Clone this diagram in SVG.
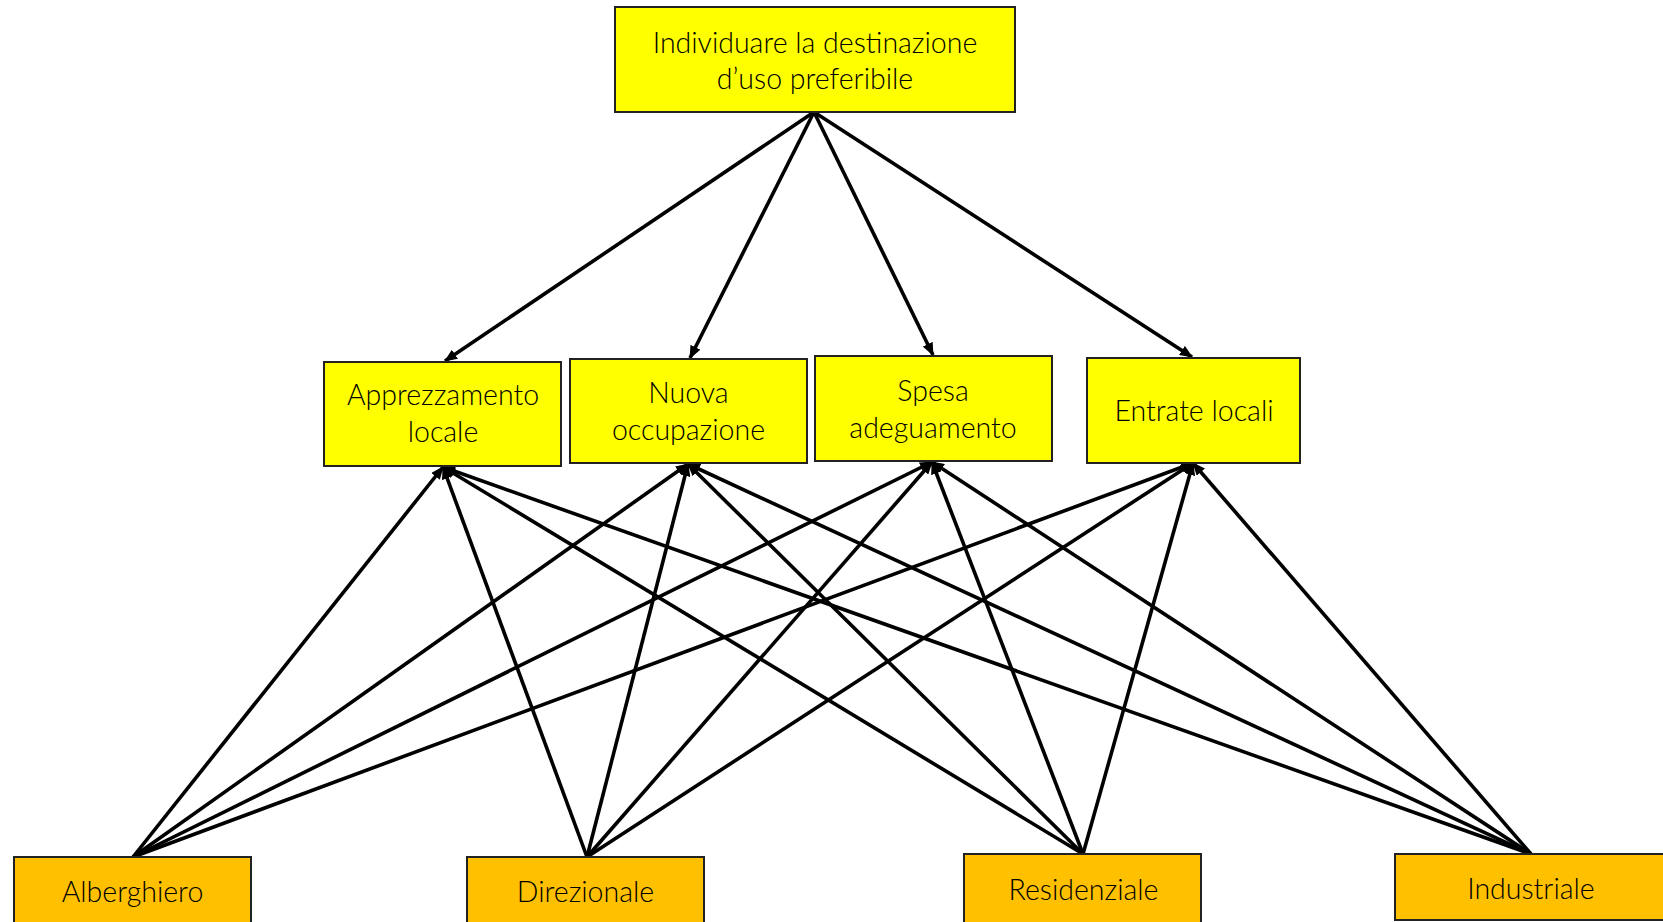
<svg xmlns="http://www.w3.org/2000/svg" width="1663" height="922" viewBox="0 0 1663 922">
  <style>
    .goal { fill: #FFFF00; stroke: #222; stroke-width: 2; }
    .crit { fill: #FFFF00; stroke: #222; stroke-width: 2; }
    .alt { fill: #FFC000; stroke: #222; stroke-width: 2; }
    .lbl { font-family: Lato, "Liberation Sans", sans-serif; font-weight: 300; font-size: 28.5px; fill: #000; text-anchor: middle; }
    .edge { stroke: #000; stroke-width: 3.6; fill: none; marker-end: url(#arrow); }
  </style>
  <defs>
    <marker id="arrow" viewBox="0 0 13 11" refX="12" refY="5.5" markerWidth="13" markerHeight="11" markerUnits="userSpaceOnUse" orient="auto">
      <path d="M0,0 L13,5.5 L0,11 z" fill="#000"/>
    </marker>
  </defs>

  <!-- connectors -->
  <g id="connectors">
    <!-- goal to criteria -->
    <line class="edge" x1="814" y1="112" x2="445" y2="361"/>
    <line class="edge" x1="814" y1="112" x2="690" y2="358"/>
    <line class="edge" x1="814" y1="112" x2="933" y2="355"/>
    <line class="edge" x1="814" y1="112" x2="1192" y2="357"/>
    <!-- Alberghiero to criteria -->
    <line class="edge" x1="133" y1="857" x2="443" y2="467"/>
    <line class="edge" x1="133" y1="857" x2="688" y2="464"/>
    <line class="edge" x1="133" y1="857" x2="932" y2="462"/>
    <line class="edge" x1="133" y1="857" x2="1193" y2="463"/>
    <!-- Direzionale to criteria -->
    <line class="edge" x1="587" y1="857" x2="443" y2="467"/>
    <line class="edge" x1="587" y1="857" x2="688" y2="464"/>
    <line class="edge" x1="587" y1="857" x2="932" y2="462"/>
    <line class="edge" x1="587" y1="857" x2="1193" y2="463"/>
    <!-- Residenziale to criteria -->
    <line class="edge" x1="1083" y1="854" x2="443" y2="467"/>
    <line class="edge" x1="1083" y1="854" x2="688" y2="464"/>
    <line class="edge" x1="1083" y1="854" x2="932" y2="462"/>
    <line class="edge" x1="1083" y1="854" x2="1193" y2="463"/>
    <!-- Industriale to criteria -->
    <line class="edge" x1="1531" y1="854" x2="443" y2="467"/>
    <line class="edge" x1="1531" y1="854" x2="688" y2="464"/>
    <line class="edge" x1="1531" y1="854" x2="932" y2="462"/>
    <line class="edge" x1="1531" y1="854" x2="1193" y2="463"/>
  </g>

  <!-- goal -->
  <g id="goal">
    <rect class="goal" x="615" y="7" width="400" height="105"/>
    <text class="lbl" x="815" y="53">Individuare la destinazione</text>
    <text class="lbl" x="815" y="89">d’uso preferibile</text>
  </g>

  <!-- criteria -->
  <g id="apprezzamento">
    <rect class="crit" x="324" y="362" width="237" height="104"/>
    <text class="lbl" x="443" y="405">Apprezzamento</text>
    <text class="lbl" x="443" y="442">locale</text>
  </g>
  <g id="occupazione">
    <rect class="crit" x="570" y="359" width="237" height="104"/>
    <text class="lbl" x="688.5" y="403">Nuova</text>
    <text class="lbl" x="688.5" y="440">occupazione</text>
  </g>
  <g id="spesa">
    <rect class="crit" x="815" y="356" width="237" height="105"/>
    <text class="lbl" x="933" y="401">Spesa</text>
    <text class="lbl" x="933" y="438">adeguamento</text>
  </g>
  <g id="entrate">
    <rect class="crit" x="1087" y="358" width="213" height="105"/>
    <text class="lbl" x="1194" y="421">Entrate locali</text>
  </g>

  <!-- alternatives -->
  <g id="alberghiero">
    <rect class="alt" x="14" y="857" width="237" height="80"/>
    <text class="lbl" x="132.5" y="902">Alberghiero</text>
  </g>
  <g id="direzionale">
    <rect class="alt" x="467" y="857" width="237" height="80"/>
    <text class="lbl" x="585.5" y="902">Direzionale</text>
  </g>
  <g id="residenziale">
    <rect class="alt" x="964" y="854" width="237" height="80"/>
    <text class="lbl" x="1083.5" y="900">Residenziale</text>
  </g>
  <g id="industriale">
    <rect class="alt" x="1395" y="854" width="280" height="66"/>
    <text class="lbl" x="1531" y="899">Industriale</text>
  </g>
</svg>
